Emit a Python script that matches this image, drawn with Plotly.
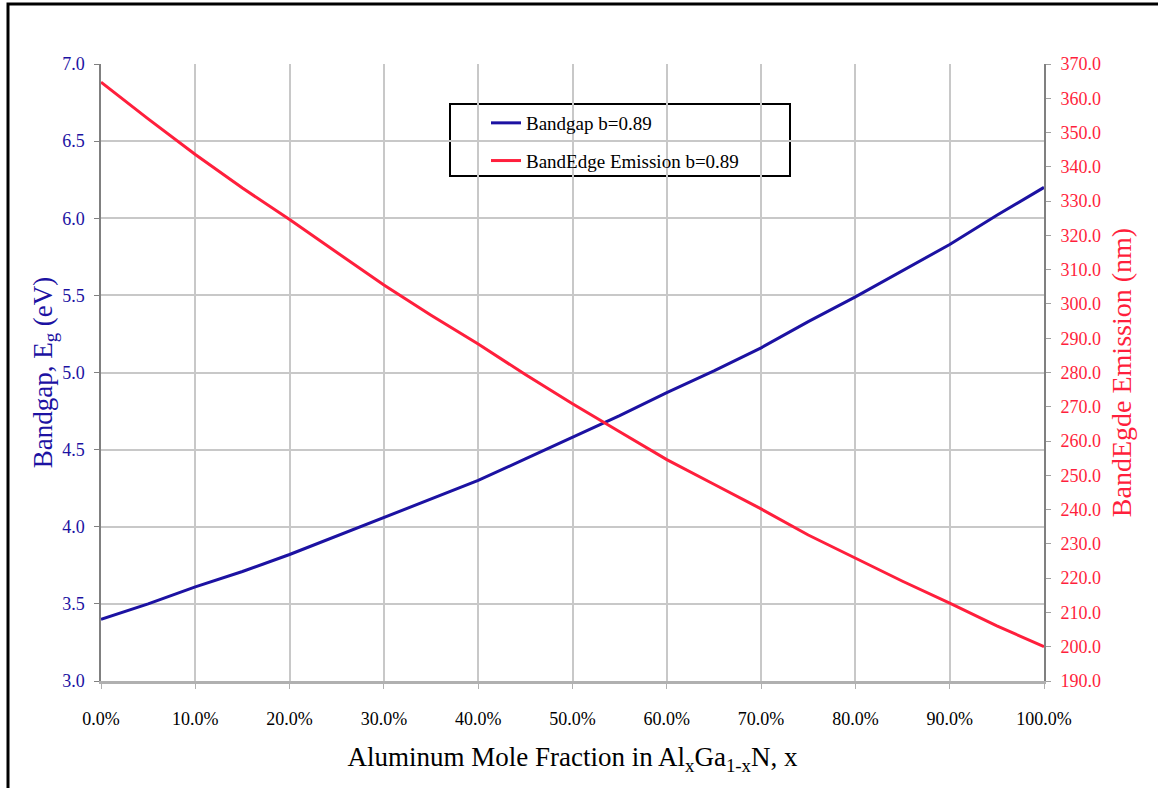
import plotly.graph_objects as go

# Aluminum mole fraction (%) in AlxGa1-xN
al_fraction = [0, 5, 10, 15, 20, 25, 30, 35, 40, 45, 50, 55, 60, 65, 70, 75, 80, 85, 90, 95, 100]
# Bandgap (eV), bowing b = 0.89
bandgap_ev = [3.40, 3.50, 3.61, 3.71, 3.82, 3.94, 4.06, 4.18, 4.30, 4.44, 4.58,
              4.72, 4.87, 5.01, 5.16, 5.33, 5.49, 5.66, 5.83, 6.02, 6.20]
# Band-edge emission wavelength (nm)
emission_nm = [364.7, 354.0, 343.6, 333.8, 324.6, 315.0, 305.5, 296.7, 288.3, 279.4, 270.9,
               262.7, 254.6, 247.4, 240.2, 232.6, 225.8, 219.1, 212.7, 206.1, 200.0]

x_ticks = list(range(0, 101, 10))
x_tick_text = [f"{v:.1f}%" for v in x_ticks]
left_ticks = [3.0 + 0.5 * i for i in range(9)]
right_ticks = list(range(190, 371, 10))

BLUE = "#1c12a2"
RED = "#ff1f3c"
SERIF = "Liberation Serif, Times New Roman, serif"

fig = go.Figure()
fig.add_trace(go.Scatter(
    x=al_fraction, y=bandgap_ev, name="Bandgap b=0.89", mode="lines",
    line=dict(color=BLUE, width=3), legendgroup="g1", yaxis="y"))
fig.add_trace(go.Scatter(
    x=al_fraction, y=emission_nm, name="BandEdge Emission b=0.89", mode="lines",
    line=dict(color=RED, width=3), legendgroup="g2", yaxis="y2"))

W, H = 1158, 788
L, R, T, B = 101, 114, 64, 107
pw, ph = W - L - R, H - T - B

def px(xp):
    return (xp - L) / pw

def py(yp):
    return (H - B - yp) / ph

fig.update_layout(
    width=W, height=H,
    margin=dict(l=L, r=R, t=T, b=B),
    paper_bgcolor="white", plot_bgcolor="white",
    font=dict(family=SERIF, size=18, color="black"),
    showlegend=True,
    hovermode=False,
    legend=dict(
        x=px(486), y=py(104), xanchor="left", yanchor="top",
        bgcolor="rgba(0,0,0,0)", borderwidth=0,
        font=dict(family=SERIF, size=19, color="black"),
        tracegroupgap=10,
    ),
    xaxis=dict(
        range=[0, 100], tickvals=x_ticks, ticktext=x_tick_text,
        showgrid=True, gridcolor="#c8c8c8", gridwidth=1.5,
        showline=True, linecolor="#b0b0b0", linewidth=3,
        ticks="outside", ticklen=5, tickcolor="#b0b0b0",
        ticklabelstandoff=14,
        tickfont=dict(family=SERIF, size=18, color="black"),
        title=dict(text="Aluminum Mole Fraction in Al<sub>x</sub>Ga<sub>1-x</sub>N, x",
                   font=dict(family=SERIF, size=27, color="black"), standoff=20),
        zeroline=False,
    ),
    yaxis=dict(
        range=[3.0, 7.0], tickvals=left_ticks, ticktext=[f"{v:.1f}" for v in left_ticks],
        showgrid=True, gridcolor="#c8c8c8", gridwidth=1.5,
        showline=True, linecolor="#808080", linewidth=1.5,
        ticks="outside", ticklen=5, tickcolor="#808080",
        ticklabelstandoff=6,
        tickfont=dict(family=SERIF, size=18, color=BLUE),
        title=dict(text="Bandgap, E<sub>g</sub> (eV)",
                   font=dict(family=SERIF, size=27, color=BLUE), standoff=2),
        zeroline=False,
    ),
    yaxis2=dict(
        range=[190, 370], tickvals=right_ticks, ticktext=[f"{v:.1f}" for v in right_ticks],
        overlaying="y", side="right",
        showgrid=False,
        showline=True, linecolor="#808080", linewidth=2,
        ticks="outside", ticklen=5, tickcolor="#a0a0a0",
        ticklabelstandoff=6,
        tickfont=dict(family=SERIF, size=18, color=RED),
        title=dict(text="BandEgde Emission (nm)",
                   font=dict(family=SERIF, size=28, color=RED), standoff=11),
        zeroline=False,
    ),
    shapes=[
        # legend box
        dict(type="rect", xref="paper", yref="paper",
             x0=px(450), x1=px(790), y0=py(176), y1=py(104),
             line=dict(color="black", width=2), fillcolor="white", layer="below"),
        # outer frame
        dict(type="rect", xref="paper", yref="paper",
             x0=px(8), x1=px(1300), y0=py(900), y1=py(4),
             line=dict(color="black", width=3), fillcolor="rgba(0,0,0,0)", layer="above"),
    ],
)

fig.write_html("out.html")
